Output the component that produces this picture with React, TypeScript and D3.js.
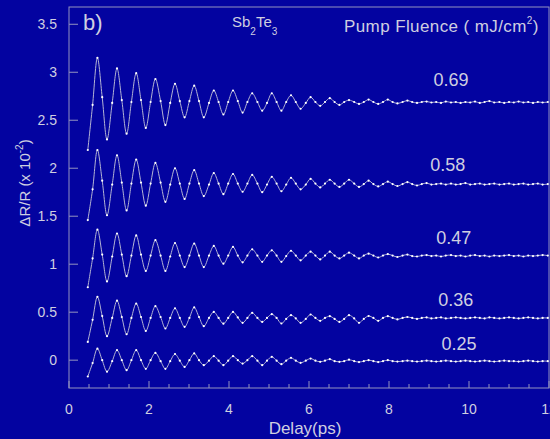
import React from 'react';
import * as d3 from 'd3';

// Pump-probe delay sample times (ps)
const delays = [
  0.47, 0.59, 0.71, 0.83, 0.95, 1.08, 1.2, 1.32, 1.44, 1.56,
  1.68, 1.8, 1.92, 2.04, 2.16, 2.29, 2.41, 2.53, 2.65, 2.77,
  2.89, 3.01, 3.13, 3.25, 3.37, 3.5, 3.62, 3.74, 3.86, 3.98,
  4.1, 4.22, 4.34, 4.46, 4.58, 4.71, 4.83, 4.95, 5.07, 5.19,
  5.31, 5.43, 5.55, 5.67, 5.79, 5.92, 6.04, 6.16, 6.28, 6.4,
  6.52, 6.64, 6.76, 6.88, 7.0, 7.13, 7.25, 7.37, 7.49, 7.61,
  7.73, 7.85, 7.97, 8.09, 8.21, 8.34, 8.46, 8.58, 8.7, 8.82,
  8.94, 9.06, 9.18, 9.3, 9.42, 9.55, 9.67, 9.79, 9.91, 10.03,
  10.15, 10.27, 10.39, 10.51, 10.63, 10.76, 10.88, 11.0, 11.12, 11.24,
  11.36, 11.48, 11.6, 11.72, 11.84, 11.97,
];

const f069 = [
  2.19, 2.66, 3.15, 2.74, 2.3, 2.68, 3.04, 2.71, 2.36, 2.69,
  2.99, 2.71, 2.42, 2.69, 2.93, 2.7, 2.45, 2.68, 2.88, 2.7,
  2.53, 2.7, 2.86, 2.7, 2.53, 2.68, 2.81, 2.69, 2.56, 2.69,
  2.81, 2.7, 2.58, 2.69, 2.78, 2.69, 2.6, 2.68, 2.78, 2.69,
  2.6, 2.69, 2.76, 2.69, 2.62, 2.68, 2.74, 2.69, 2.65, 2.69,
  2.73, 2.69, 2.66, 2.69, 2.71, 2.69, 2.67, 2.69, 2.715, 2.69,
  2.67, 2.69, 2.715, 2.69, 2.675, 2.69, 2.705, 2.69, 2.68, 2.69,
  2.695, 2.685, 2.69, 2.68, 2.695, 2.685, 2.69, 2.68, 2.69, 2.685,
  2.695, 2.68, 2.69, 2.7, 2.685, 2.69, 2.68, 2.69, 2.685, 2.695,
  2.685, 2.69, 2.68, 2.69, 2.685, 2.69,
];

const f058 = [
  1.46, 1.78, 2.19, 1.87, 1.51, 1.83, 2.135, 1.85, 1.56, 1.84,
  2.09, 1.85, 1.61, 1.84, 2.055, 1.85, 1.65, 1.83, 2.0, 1.84,
  1.68, 1.84, 1.98, 1.84, 1.71, 1.83, 1.95, 1.84, 1.73, 1.84,
  1.94, 1.84, 1.755, 1.84, 1.93, 1.84, 1.75, 1.83, 1.91, 1.84,
  1.76, 1.83, 1.9, 1.84, 1.78, 1.83, 1.89, 1.84, 1.8, 1.84,
  1.88, 1.84, 1.805, 1.84, 1.88, 1.84, 1.805, 1.835, 1.87, 1.835,
  1.81, 1.835, 1.86, 1.835, 1.815, 1.835, 1.855, 1.835, 1.82, 1.835,
  1.845, 1.83, 1.835, 1.84, 1.83, 1.84, 1.83, 1.835, 1.845, 1.83,
  1.835, 1.84, 1.83, 1.835, 1.84, 1.83, 1.835, 1.84, 1.83, 1.835,
  1.84, 1.83, 1.835, 1.84, 1.83, 1.835,
];

const f047 = [
  0.76, 1.06, 1.36, 1.1, 0.82, 1.08, 1.32, 1.1, 0.875, 1.09,
  1.3, 1.1, 0.93, 1.09, 1.25, 1.09, 0.93, 1.08, 1.22, 1.09,
  0.97, 1.09, 1.215, 1.09, 0.97, 1.09, 1.19, 1.09, 1.005, 1.09,
  1.18, 1.09, 1.02, 1.09, 1.155, 1.09, 1.025, 1.09, 1.145, 1.09,
  1.025, 1.085, 1.14, 1.09, 1.04, 1.09, 1.13, 1.09, 1.05, 1.09,
  1.13, 1.09, 1.06, 1.09, 1.12, 1.09, 1.06, 1.09, 1.11, 1.09,
  1.07, 1.09, 1.105, 1.09, 1.075, 1.09, 1.1, 1.085, 1.08, 1.09,
  1.095, 1.085, 1.09, 1.08, 1.09, 1.095, 1.085, 1.09, 1.08, 1.09,
  1.095, 1.085, 1.09, 1.08, 1.09, 1.085, 1.09, 1.095, 1.085, 1.09,
  1.08, 1.09, 1.085, 1.09, 1.095, 1.09,
];

const f036 = [
  0.19, 0.42, 0.66, 0.46, 0.25, 0.44, 0.62, 0.45, 0.27, 0.44,
  0.59, 0.45, 0.305, 0.44, 0.5625, 0.45, 0.33, 0.44, 0.54, 0.44,
  0.347, 0.44, 0.55, 0.45, 0.354, 0.44, 0.503, 0.44, 0.38, 0.44,
  0.503, 0.445, 0.389, 0.44, 0.493, 0.44, 0.399, 0.44, 0.479, 0.44,
  0.382, 0.43, 0.469, 0.435, 0.389, 0.43, 0.476, 0.44, 0.41, 0.44,
  0.458, 0.43, 0.399, 0.43, 0.469, 0.435, 0.389, 0.43, 0.46, 0.44,
  0.41, 0.44, 0.458, 0.44, 0.425, 0.44, 0.45, 0.44, 0.43, 0.44,
  0.445, 0.435, 0.44, 0.445, 0.435, 0.44, 0.445, 0.44, 0.435, 0.44,
  0.445, 0.44, 0.435, 0.445, 0.44, 0.435, 0.44, 0.445, 0.44, 0.435,
  0.44, 0.445, 0.44, 0.435, 0.44, 0.44,
];

const f025 = [
  -0.17, -0.03, 0.12, 0.0, -0.12, -0.01, 0.104, 0.0, -0.104, 0.0,
  0.104, 0.0, -0.09, 0.0, 0.076, -0.01, -0.09, -0.01, 0.063, -0.005,
  -0.07, 0.0, 0.07, 0.0, -0.052, -0.005, 0.042, -0.005, -0.052, -0.005,
  0.042, 0.0, -0.035, 0.0, 0.042, -0.005, -0.052, -0.005, 0.035, -0.005,
  -0.042, -0.005, 0.024, -0.005, -0.028, -0.005, 0.017, -0.005, -0.017, -0.005,
  0.01, -0.01, -0.017, -0.01, 0.005, -0.01, -0.02, -0.01, 0.0, -0.01,
  -0.02, -0.01, 0.0, -0.01, -0.015, -0.01, -0.005, -0.01, -0.015, -0.01,
  -0.005, -0.01, -0.015, -0.01, -0.005, -0.01, -0.015, -0.01, -0.005, -0.01,
  -0.015, -0.01, -0.005, -0.01, -0.015, -0.01, -0.005, -0.01, -0.01, -0.015,
  -0.01, -0.005, -0.01, -0.015, -0.01, -0.01,
];

const fluenceLabels = ['0.69', '0.58', '0.47', '0.36', '0.25'];
const yTicks = [0, 0.5, 1, 1.5, 2, 2.5, 3, 3.5];
const yTickLabels = ['0', '0.5', '1', '1.5', '2', '2.5', '3', '3.5'];
const xTicks = [0, 2, 4, 6, 8, 10, 12];
const xTickLabels = ['0', '2', '4', '6', '8', '10', '12'];

// label anchor positions (data units)
const labelAnchors: [number, number][] = [
  [9.55, 2.855],
  [9.47, 1.97],
  [9.62, 1.208],
  [9.67, 0.5625],
  [9.75, 0.104],
];

const W = 550;
const H = 439;
const M = { left: 69, right: 549, top: 7, bottom: 388 };

const BG = '#0303a0';
const AXIS = '#9494c0';
const TEXT = '#cfcfe0';
const LINE = '#b4b4d4';
const FONT = '"Liberation Sans", Arial, sans-serif';

export default function App() {
  const x = d3.scaleLinear().domain([0, 12]).range([M.left, M.right]);
  const y = d3.scaleLinear().domain([-0.29, 3.68]).range([M.bottom, M.top]);
  const series = [f069, f058, f047, f036, f025];
  const line = d3
    .line<number>()
    .x((_, i) => x(delays[i]))
    .y((d) => y(d))
    .curve(d3.curveCatmullRom.alpha(0.5));
  const minorX = d3.range(0, 12.01, 0.5);

  return (
    <svg
      width={W}
      height={H}
      style={{ position: 'absolute', left: 0, top: 0, display: 'block' }}
      fontFamily={FONT}
    >
      <rect x={0} y={0} width={W} height={H} fill={BG} />
      {/* frame */}
      <rect
        x={M.left}
        y={M.top}
        width={M.right - M.left}
        height={M.bottom - M.top}
        fill="none"
        stroke={AXIS}
        strokeWidth={1}
      />
      {/* x ticks */}
      {minorX.map((t, i) => {
        const major = Math.abs(t % 2) < 1e-6;
        return (
          <line
            key={'xt' + i}
            x1={x(t)}
            x2={x(t)}
            y1={M.bottom}
            y2={M.bottom - (major ? 7 : 4)}
            stroke={AXIS}
          />
        );
      })}
      {xTicks.map((t, i) => (
        <text
          key={'xl' + i}
          x={x(t)}
          y={414}
          fill={TEXT}
          fontSize={14}
          textAnchor="middle"
        >
          {xTickLabels[i]}
        </text>
      ))}
      {/* y ticks */}
      {yTicks.map((v, i) => (
        <g key={'yt' + i}>
          <line x1={M.left} x2={M.left + 9} y1={y(v)} y2={y(v)} stroke={AXIS} />
          <text
            x={57}
            y={y(v)}
            dy="0.36em"
            fill={TEXT}
            fontSize={14}
            textAnchor="end"
          >
            {yTickLabels[i]}
          </text>
        </g>
      ))}
      {/* traces */}
      {series.map((s, si) => (
        <g key={'s' + si}>
          <path d={line(s) || ''} fill="none" stroke={LINE} strokeWidth={1} />
          {s.map((v, i) => (
            <circle key={i} cx={x(delays[i])} cy={y(v)} r={1.1} fill="#ffffff" />
          ))}
        </g>
      ))}
      {/* fluence labels */}
      {fluenceLabels.map((lab, i) => (
        <text
          key={'fl' + i}
          x={x(labelAnchors[i][0])}
          y={y(labelAnchors[i][1])}
          fill={TEXT}
          fontSize={18}
          textAnchor="middle"
        >
          {lab}
        </text>
      ))}
      {/* titles */}
      <text x={83} y={30} fill={TEXT} fontSize={22}>
        b)
      </text>
      <text x={232} y={27} fill={TEXT} fontSize={15}>
        Sb
        <tspan fontSize={10} dy={8}>2</tspan>
        <tspan fontSize={15} dy={-8}>Te</tspan>
        <tspan fontSize={10} dy={8}>3</tspan>
      </text>
      <text x={344} y={32} fill={TEXT} fontSize={17} letterSpacing={0.4}>
        Pump Fluence ( mJ/cm
        <tspan fontSize={10} dy={-8}>2</tspan>
        <tspan dy={8}>)</tspan>
      </text>
      <text x={305} y={434} fill={TEXT} fontSize={17} textAnchor="middle">
        Delay(ps)
      </text>
      <text
        transform="translate(30,183) rotate(-90)"
        fill={TEXT}
        fontSize={15}
        textAnchor="middle"
      >
        ΔR/R (x 10
        <tspan fontSize={10} dy={-7}>-2</tspan>
        <tspan dy={7}>)</tspan>
      </text>
    </svg>
  );
}
